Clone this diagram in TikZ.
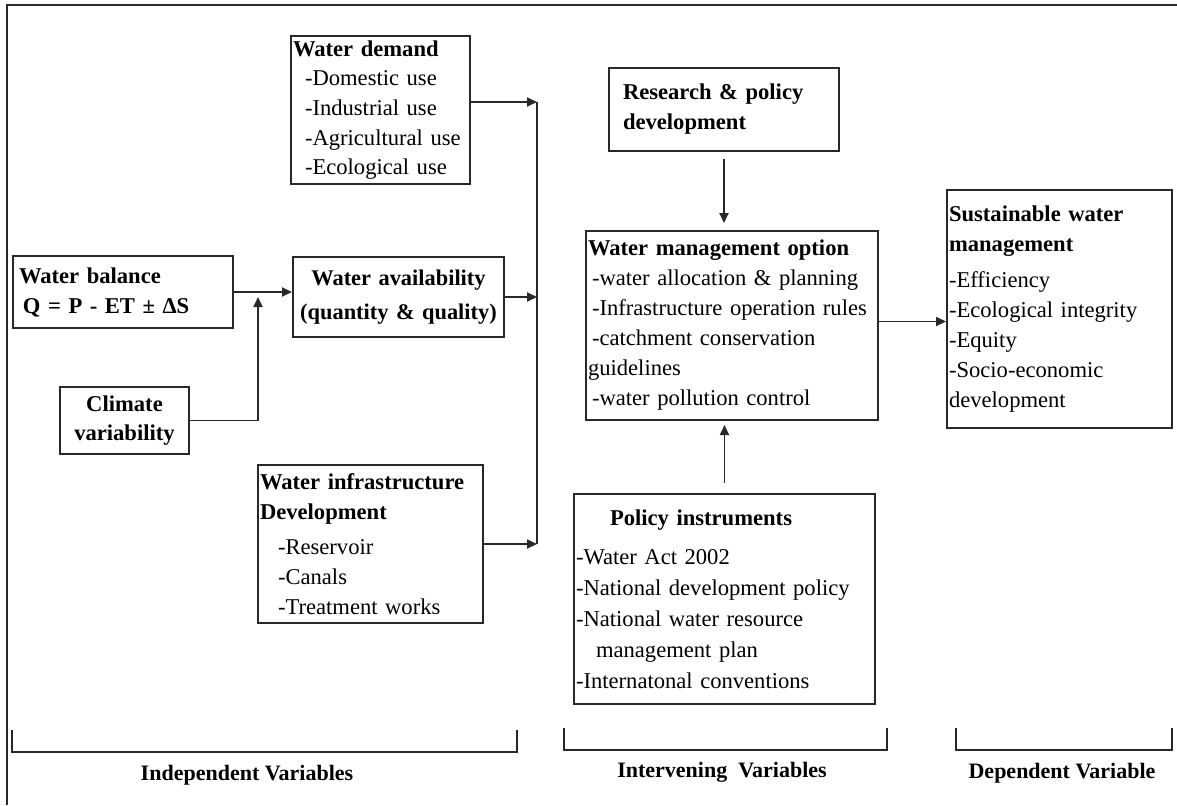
\documentclass[tikz,border=0pt]{standalone}
\usepackage{fontspec}
\setmainfont{Liberation Serif}
\usetikzlibrary{arrows.meta,positioning,calc}
\definecolor{frameline}{RGB}{40,40,40}
\tikzset{
  varbox/.style={draw=frameline, line width=1pt, anchor=north west, inner xsep=1pt, inner ysep=0pt, align=left, font=\fontsize{11.3}{14.5}\selectfont},
  arr/.style={-{Triangle[length=5pt,width=4.5pt]}, line width=0.9pt, frameline},
  link/.style={line width=0.9pt, frameline},
  brace/.style={line width=1.3pt, frameline},
  varlabel/.style={font=\fontsize{11}{13}\selectfont\bfseries},
}

\begin{document}
\begin{tikzpicture}[x=0.5pt, y=-0.5pt]
  \useasboundingbox (0,0) rectangle (1177,805);
  \draw[line width=1pt, frameline] (7,805) -- (7,5) -- (1177,5);
  \node[varbox, text width=87.5pt, minimum height=74pt, font=\fontsize{11.3}{14.8}\selectfont] (demand) at (290,35)
    {\textbf{Water demand}\\ \hspace*{6pt}-Domestic use\\ \hspace*{6pt}-Industrial use\\ \hspace*{6pt}-Agricultural use\\ \hspace*{6pt}-Ecological use};
  \node[varbox, text width=108pt, minimum height=36pt, font=\fontsize{11.3}{15}\selectfont\bfseries] (balance) at (12,255)
    {\hspace*{2pt}Water balance\\ \hspace*{4pt}Q = P - ET ± ΔS};
  \node[varbox, text width=62.5pt, minimum height=33.5pt, align=center, font=\fontsize{11.3}{14.5}\selectfont\bfseries] (climate) at (59,386)
    {Climate\\ variability};
  \node[varbox, inner xsep=0.5pt, text width=104.5pt, minimum height=40pt, align=center, font=\fontsize{11.2}{17}\selectfont\bfseries] (avail) at (292,256)
    {Water availability\\ (quantity \& quality)};
  \node[varbox, text width=110.5pt, minimum height=79pt, font=\fontsize{11.3}{15}\selectfont] (infra) at (257,464)
    {\textbf{Water infrastructure}\\ \textbf{Development}\\[2.5pt] \hspace*{9pt}-Reservoir\\ \hspace*{9pt}-Canals\\ \hspace*{9pt}-Treatment works};
  \node[varbox, text width=113pt, minimum height=41.5pt, font=\fontsize{11.3}{15}\selectfont\bfseries] (research) at (608,67)
    {\hspace*{6pt}Research \& policy\\ \hspace*{6pt}development};
  \node[varbox, text width=144pt, minimum height=94.5pt, font=\fontsize{11.3}{15}\selectfont] (mgmt) at (585,230)
    {\textbf{Water management option}\\ \hspace*{2pt}-water allocation \& planning\\ \hspace*{2pt}-Infrastructure operation rules\\ \hspace*{2pt}-catchment conservation\\ guidelines\\ \hspace*{2pt}-water pollution control};
  \node[varbox, text width=148.5pt, minimum height=105pt, font=\fontsize{11.3}{15.5}\selectfont] (policy) at (573,493)
    {\hspace*{17pt}\textbf{Policy instruments}\\[4pt] -Water Act 2002\\ -National development policy\\ -National water resource\\ \hspace*{10pt}management plan\\ -Internatonal conventions};
  \node[varbox, text width=110.5pt, minimum height=119pt, font=\fontsize{11.3}{15}\selectfont] (sustain) at (946,189)
    {\textbf{Sustainable water}\\ \textbf{management}\\[3pt] -Efficiency\\ -Ecological integrity\\ -Equity\\ -Socio-economic\\ development};
  \coordinate (bustop) at (537,102);
  \coordinate (busbot) at (537,544);
  \coordinate (climjoin) at (258,297);
  \draw[link] (bustop) -- (busbot);
  \draw[arr] (demand.east |- bustop) -- (bustop);
  \draw[arr] (avail.east) -- (avail.east -| bustop);
  \draw[arr] (infra.east |- busbot) -- (busbot);
  \draw[arr] (balance.east) -- (balance.east -| avail.west);
  \draw[arr] (climate.east) -| (climjoin);
  \draw[arr, shorten <=3.5pt, shorten >=3.5pt] (research.south) -- (research.south |- mgmt.north);
  \draw[arr, shorten <=5pt, shorten >=2pt] (policy.north) -- (policy.north |- mgmt.south);
  \draw[arr] ([yshift=2pt]mgmt.east) -- ([yshift=2pt]sustain.west |- mgmt.east);
  \draw[brace] (12,730) |- (517,752) -- (517,730);
  \draw[brace] (564,728) |- (887,750) -- (887,728);
  \draw[brace] (956,728) |- (1172,750) -- (1172,728);
  \node[varlabel] (indep) at (247,775) {Independent Variables};
  \node[varlabel] (interv) at (722,772) {Intervening\ \ Variables};
  \node[varlabel] (depend) at (1062,773) {Dependent Variable};
\end{tikzpicture}
\end{document}
